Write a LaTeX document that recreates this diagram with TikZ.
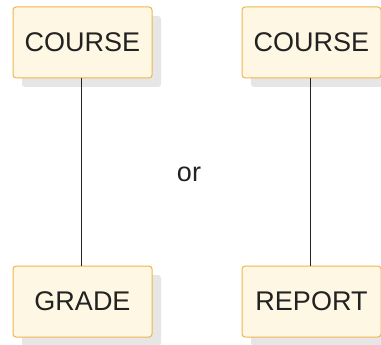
\documentclass[tikz,border=0pt]{standalone}
\usepackage{fontspec}
\setmainfont{Liberation Sans}
\definecolor{boxfill}{HTML}{FEF7E3}
\definecolor{boxedge}{HTML}{F0B44C}
\definecolor{shade}{HTML}{E6E6E6}
\definecolor{ink}{HTML}{222222}
\begin{document}
\begin{tikzpicture}[x=1pt,y=-1pt,
  entity/.style={draw=boxedge,fill=boxfill,line width=1pt,rounded corners=3pt,
    minimum width=139pt,minimum height=71pt,inner sep=0pt,font=\fontsize{27}{32}\selectfont,text=ink},
  shadowbox/.style={fill=shade,rounded corners=3pt,minimum width=139pt,minimum height=71pt,inner sep=0pt},
  link/.style={draw=ink,line width=0.8pt}]
\useasboundingbox (0,0) rectangle (381,345);
\node[shadowbox] at (91.5,51.5) {};
\node[shadowbox] at (91.5,310.5) {};
\node[shadowbox] at (320.5,51.5) {};
\node[shadowbox] at (320.5,310.5) {};
\node[entity] (c1) at (82.5,42.5) {COURSE};
\node[entity] (g) at (82.5,301.5) {GRADE};
\node[entity] (c2) at (311.5,42.5) {COURSE};
\node[entity] (r) at (311.5,301.5) {REPORT};
\draw[link] ([xshift=-1.5pt]c1.south) -- ([xshift=-1.5pt]g.north);
\draw[link] ([xshift=-1.5pt]c2.south) -- ([xshift=-1.5pt]r.north);
\node[font=\fontsize{27}{32}\selectfont,text=ink] (or) at (189,174) {or};
\end{tikzpicture}
\end{document}
